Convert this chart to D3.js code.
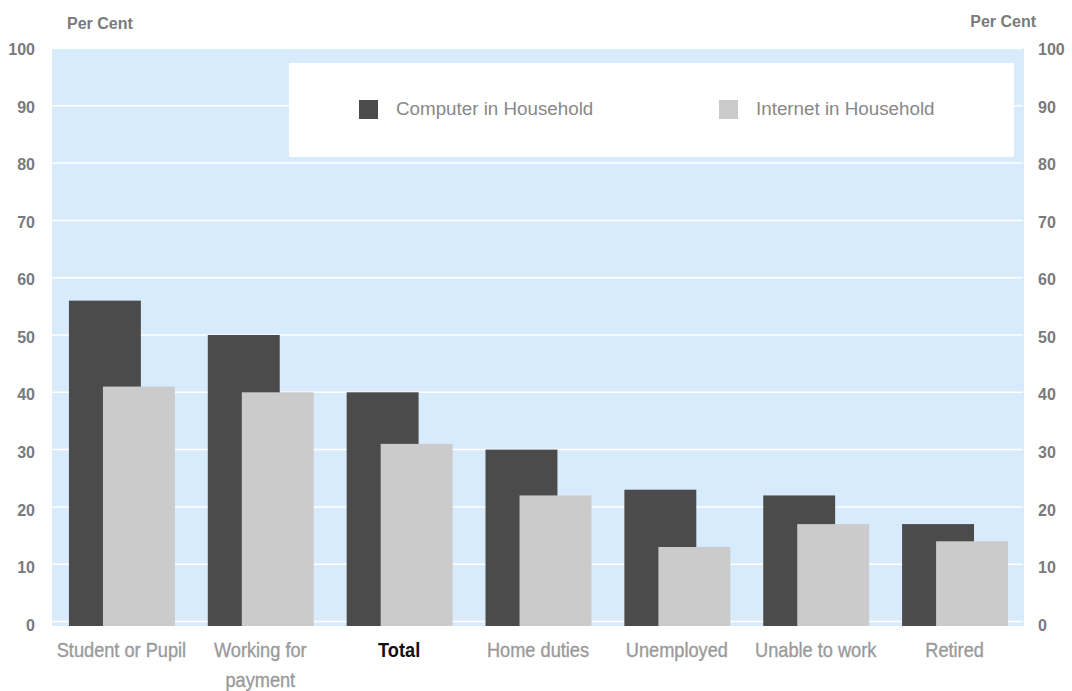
<!DOCTYPE html>
<html>
<head>
<meta charset="utf-8">
<script src="https://cdn.jsdelivr.net/npm/d3@7"></script>
<style>
  html, body { margin: 0; padding: 0; background: #ffffff; }
  svg { display: block; }
</style>
</head>
<body>
<div id="chart"></div>
<script>
// Household access by economic status (per cent)
const categories = ["Student or Pupil", "Working for payment", "Total", "Home duties", "Unemployed", "Unable to work", "Retired"];
const computerValues = [56, 50, 40, 30, 23, 22, 17];
const internetValues = [41, 40, 31, 22, 13, 17, 14];
const seriesNames = ["Computer in Household", "Internet in Household"];
const yTicks = [0, 10, 20, 30, 40, 50, 60, 70, 80, 90, 100];
const highlightCategory = "Total";

const W = 1072, H = 691;
const plot = { left: 52, right: 1024, top: 48.5, bottom: 621.5, floor: 626 };
const colors = { computer: "#4b4b4b", internet: "#cbcbcb", bg: "#d8ebfc", grid: "#ffffff", tick: "#7a7a7a", cat: "#9a9a9a" };

const svg = d3.select("#chart").append("svg")
  .attr("width", W).attr("height", H);

const y = d3.scaleLinear().domain([0, 100]).range([plot.bottom, plot.top]);
const x = d3.scaleBand().domain(categories).range([plot.left, plot.right]).padding(0);
const bw = x.bandwidth();

// plot background
svg.append("rect")
  .attr("x", plot.left).attr("y", plot.top - 0.5)
  .attr("width", plot.right - plot.left).attr("height", plot.floor - plot.top + 0.5)
  .attr("fill", colors.bg);

// horizontal gridlines
svg.append("g").selectAll("line").data(yTicks).join("line")
  .attr("x1", plot.left).attr("x2", plot.right - 1)
  .attr("y1", d => y(d)).attr("y2", d => y(d))
  .attr("stroke", colors.grid).attr("stroke-width", 1.5);

// bars: computer behind, internet offset to the right and overlapping
const barW = bw * 0.518;
const offComputer = bw * 0.122;
const offInternet = bw * 0.367;

const rows = categories.map((c, i) => ({ c, comp: computerValues[i], net: internetValues[i] }));

svg.append("g").selectAll("rect").data(rows).join("rect")
  .attr("x", d => x(d.c) + offComputer)
  .attr("y", d => y(d.comp))
  .attr("width", barW)
  .attr("height", d => plot.floor - y(d.comp))
  .attr("fill", colors.computer);

svg.append("g").selectAll("rect").data(rows).join("rect")
  .attr("x", d => x(d.c) + offInternet)
  .attr("y", d => y(d.net))
  .attr("width", barW)
  .attr("height", d => plot.floor - y(d.net))
  .attr("fill", colors.internet);

// value axes, left and right
const tickFont = "'Liberation Sans', Arial, sans-serif";
const leftAxis = d3.axisLeft(y).tickValues(yTicks).tickSize(0).tickPadding(0);
const rightAxis = d3.axisRight(y).tickValues(yTicks).tickSize(0).tickPadding(0);

function styleAxis(g) {
  g.select(".domain").remove();
  g.selectAll("text")
    .attr("font-family", tickFont)
    .attr("font-size", 16)
    .attr("font-weight", "bold")
    .attr("fill", colors.tick)
    .attr("dy", d => (0.38 + 0.016 * (100 - d) / 10) + "em");
}
svg.append("g").attr("transform", "translate(35,0)").call(leftAxis).call(styleAxis);
svg.append("g").attr("transform", "translate(1038,0)").call(rightAxis).call(styleAxis);

// axis titles
svg.append("text").attr("x", 67).attr("y", 29)
  .attr("font-family", tickFont).attr("font-size", 16).attr("font-weight", "bold")
  .attr("fill", colors.tick).text("Per Cent");
svg.append("text").attr("x", 1036).attr("y", 27).attr("text-anchor", "end")
  .attr("font-family", tickFont).attr("font-size", 16).attr("font-weight", "bold")
  .attr("fill", colors.tick).text("Per Cent");

// category labels in a condensed face, wrapped to the band width
const narrow = 0.91;
const catGroups = svg.append("g").selectAll("g").data(categories).join("g")
  .attr("transform", d => `translate(${x(d) + bw / 2},657) scale(${narrow},1)`);

const catLabels = catGroups.append("text")
  .attr("x", 0).attr("y", 0)
  .attr("text-anchor", "middle")
  .attr("font-family", tickFont)
  .attr("font-size", 20)
  .attr("font-weight", d => d === highlightCategory ? "bold" : "normal")
  .attr("fill", d => d === highlightCategory ? "#111111" : colors.cat)
  .attr("stroke", d => d === highlightCategory ? "none" : colors.cat)
  .attr("stroke-width", 0.35);

catLabels.each(function(d) {
  const t = d3.select(this);
  const words = d.split(" ");
  const maxW = (bw - 2) / narrow;
  let line = [];
  let tspan = t.append("tspan").attr("x", 0).attr("dy", 0);
  words.forEach(w => {
    line.push(w);
    tspan.text(line.join(" "));
    if (tspan.node().getComputedTextLength() > maxW && line.length > 1) {
      line.pop();
      tspan.text(line.join(" "));
      line = [w];
      tspan = t.append("tspan").attr("x", 0).attr("dy", 30).text(w);
    }
  });
});

// legend
const legend = svg.append("g");
legend.append("rect")
  .attr("x", 289).attr("y", 63).attr("width", 725).attr("height", 94)
  .attr("fill", "#ffffff");
const legendItems = [
  { name: seriesNames[0], color: colors.computer, x: 359 },
  { name: seriesNames[1], color: colors.internet, x: 719 }
];
const li = legend.selectAll("g.item").data(legendItems).join("g").attr("class", "item");
li.append("rect")
  .attr("x", d => d.x).attr("y", 100).attr("width", 19).attr("height", 19)
  .attr("fill", d => d.color);
li.append("text")
  .attr("x", d => d.x + 37).attr("y", 115)
  .attr("font-family", tickFont).attr("font-size", 18.8)
  .attr("fill", "#888888")
  .text(d => d.name);
</script>
</body>
</html>
